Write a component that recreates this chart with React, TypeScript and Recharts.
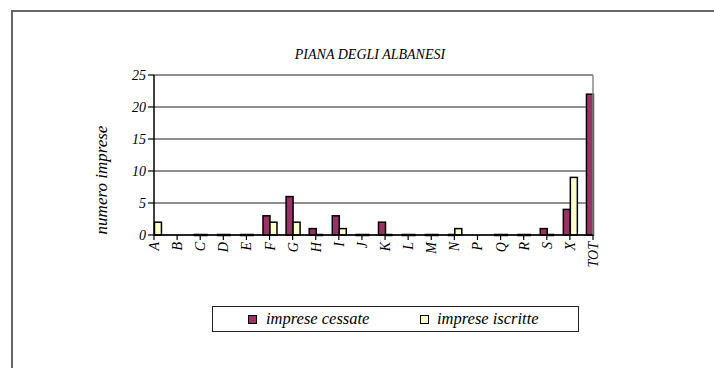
import { BarChart, Bar, XAxis, YAxis, CartesianGrid, ReferenceLine } from "recharts";

const categories = ["A", "B", "C", "D", "E", "F", "G", "H", "I", "J", "K", "L", "M", "N", "P", "Q", "R", "S", "X", "TOT"];
const cessate: (number | null)[] = [null, null, 0, 0, 0, 3, 6, 1, 3, 0, 2, 0, 0, 0, null, 0, 0, 1, 4, 22];
const iscritte: (number | null)[] = [2, null, 0, 0, 0, 2, 2, 0, 1, 0, 0, 0, 0, 1, null, 0, 0, 0, 9, null];
const yTicks = [0, 5, 10, 15, 20, 25];

const CESSATE = "#993366";
const ISCRITTE = "#FFFFCC";
const FONT = "Liberation Serif";

const data = categories.map((c, i) => ({ cat: c, cessate: cessate[i], iscritte: iscritte[i] }));

// zero values are drawn as a flat black line on the axis, missing ones not at all
function makeShape(key: "cessate" | "iscritte", fill: string) {
  return (props: any) => {
    const { x, y, width, height, payload } = props;
    const v = payload?.[key];
    if (v == null) return <g />;
    if (v === 0 || !height) {
      return <line x1={x} x2={x + width} y1={y} y2={y} stroke="#000" strokeWidth={2.5} />;
    }
    return <rect x={x} y={y} width={width} height={height} fill={fill} stroke="#000" strokeWidth={1.5} />;
  };
}

const XTick = (props: any) => {
  const { x, y, payload } = props;
  return (
    <text
      x={x}
      y={y}
      dy={5}
      transform={`rotate(-90, ${x}, ${y})`}
      textAnchor="end"
      fontFamily={FONT}
      fontStyle="italic"
      fontSize={14}
      fill="#000"
    >
      {payload.value}
    </text>
  );
};

const italic = { fontFamily: FONT, fontStyle: "italic" as const };

export default function App() {
  return (
    <div style={{ position: "absolute", left: 0, top: 0, width: 714, height: 368, background: "#fff" }}>
      <div
        style={{
          position: "absolute",
          left: 11,
          top: 10,
          width: 720,
          height: 380,
          borderLeft: "2px solid #666",
          borderTop: "2px solid #666",
        }}
      />
      <div
        style={{
          ...italic,
          position: "absolute",
          left: 220,
          width: 300,
          top: 47,
          textAlign: "center",
          fontSize: 14,
        }}
      >
        PIANA DEGLI ALBANESI
      </div>
      <div
        style={{
          ...italic,
          position: "absolute",
          left: 102,
          top: 180,
          transform: "translate(-50%, -50%) rotate(-90deg)",
          whiteSpace: "nowrap",
          fontSize: 17,
        }}
      >
        numero imprese
      </div>
      <div style={{ position: "absolute", left: 0, top: 0 }}>
        <BarChart
          width={714}
          height={368}
          data={data}
          margin={{ top: 75, right: 121, left: 114, bottom: 93 }}
          barGap={0}
          barSize={7}
        >
          <CartesianGrid vertical={false} stroke="#222" strokeWidth={1.2} />
          <XAxis
            dataKey="cat"
            interval={0}
            padding={{ left: -11.55, right: -11.55 }}
            height={40}
            tick={<XTick />}
            tickSize={5}
            tickLine={{ stroke: "#000", strokeWidth: 1.2 }}
            axisLine={{ stroke: "#000", strokeWidth: 1.5 }}
          />
          <YAxis
            domain={[0, 25]}
            ticks={yTicks}
            width={40}
            tickSize={6}
            tickMargin={2}
            tick={{ fontFamily: FONT, fontStyle: "italic", fontSize: 14, fill: "#000" }}
            tickLine={{ stroke: "#000", strokeWidth: 1.2 }}
            axisLine={{ stroke: "#000", strokeWidth: 1.5 }}
          />
          <ReferenceLine x="TOT" stroke="#888" strokeWidth={1.5} />
          <Bar dataKey="cessate" isAnimationActive={false} shape={makeShape("cessate", CESSATE)} />
          <Bar dataKey="iscritte" isAnimationActive={false} shape={makeShape("iscritte", ISCRITTE)} />
        </BarChart>
      </div>
      <div
        style={{
          ...italic,
          position: "absolute",
          left: 212,
          top: 306,
          width: 367,
          height: 26,
          boxSizing: "border-box",
          border: "1.5px solid #222",
          fontSize: 16.5,
        }}
      >
        <div style={{ position: "absolute", left: 35, top: 8, width: 7, height: 7, background: CESSATE, border: "1px solid #000" }} />
        <div style={{ position: "absolute", left: 53, top: 2, whiteSpace: "nowrap" }}>imprese cessate</div>
        <div style={{ position: "absolute", left: 207, top: 8, width: 7, height: 7, background: ISCRITTE, border: "1px solid #000" }} />
        <div style={{ position: "absolute", left: 224, top: 2, whiteSpace: "nowrap" }}>imprese iscritte</div>
      </div>
    </div>
  );
}
